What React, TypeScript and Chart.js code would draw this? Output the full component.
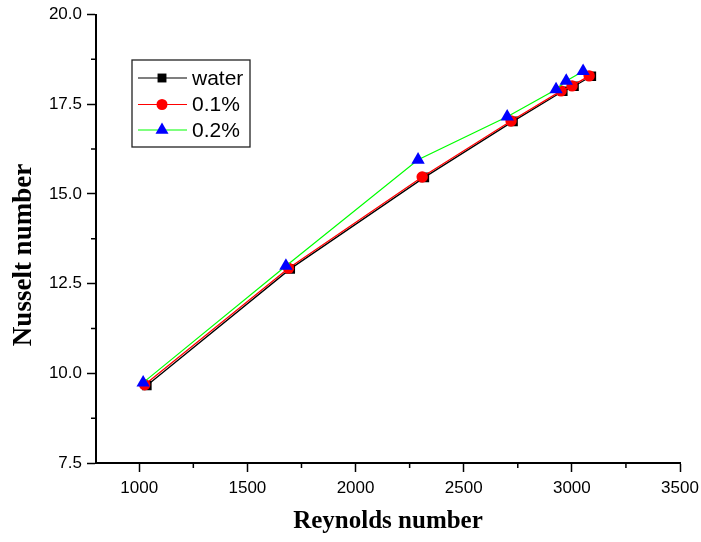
import React, { useEffect, useRef } from 'react';
import { Chart, registerables } from 'chart.js';

Chart.register(...registerables);

// ---- data ----
const seriesNames = ['water', '0.1%', '0.2%'];
const waterRe = [1035, 1698, 2318, 2728, 2958, 3010, 3090];
const waterNu = [9.66, 12.91, 15.46, 17.02, 17.86, 18.0, 18.28];
const np1Re = [1025, 1690, 2308, 2719, 2950, 3001, 3080];
const np1Nu = [9.68, 12.93, 15.47, 17.03, 17.87, 18.01, 18.29];
const np2Re = [1018, 1678, 2289, 2701, 2927, 2974, 3052];
const np2Nu = [9.74, 12.99, 15.95, 17.15, 17.91, 18.15, 18.42];
const xTicks = [1000, 1500, 2000, 2500, 3000, 3500];
const yTicks = [7.5, 10, 12.5, 15, 17.5, 20];
const xTitle = 'Reynolds number';
const yTitle = 'Nusselt number';

const colors = {
  water: '#000000',
  np1Line: '#ff0000',
  np1Point: '#ff0000',
  np2Line: '#00ff00',
  np2Point: '#0000ff',
};

function drawMarker(ctx: CanvasRenderingContext2D, kind: string, x: number, y: number, r: number, color: string) {
  ctx.save();
  ctx.fillStyle = color;
  ctx.beginPath();
  if (kind === 'rect') {
    const s = r * Math.SQRT1_2;
    ctx.rect(x - s, y - s, 2 * s, 2 * s);
  } else if (kind === 'circle') {
    ctx.arc(x, y, r, 0, Math.PI * 2);
  } else {
    let rad = 0;
    ctx.moveTo(x + Math.sin(rad) * r, y - Math.cos(rad) * r);
    rad += (2 * Math.PI) / 3;
    ctx.lineTo(x + Math.sin(rad) * r, y - Math.cos(rad) * r);
    rad += (2 * Math.PI) / 3;
    ctx.lineTo(x + Math.sin(rad) * r, y - Math.cos(rad) * r);
    ctx.closePath();
  }
  ctx.fill();
  ctx.restore();
}

const decorPlugin = {
  id: 'decor',
  afterDraw(chart: any) {
    const ctx: CanvasRenderingContext2D = chart.ctx;
    const xs = chart.scales.x;
    const ys = chart.scales.y;
    ctx.save();
    // minor ticks
    ctx.strokeStyle = '#000';
    ctx.lineWidth = 1.5;
    ctx.beginPath();
    for (let i = 0; i < xTicks.length - 1; i++) {
      const px = xs.getPixelForValue((xTicks[i] + xTicks[i + 1]) / 2);
      ctx.moveTo(px, xs.top);
      ctx.lineTo(px, xs.top + 5);
    }
    for (let i = 0; i < yTicks.length - 1; i++) {
      const py = ys.getPixelForValue((yTicks[i] + yTicks[i + 1]) / 2);
      ctx.moveTo(ys.right, py);
      ctx.lineTo(ys.right - 5, py);
    }
    ctx.stroke();

    // y title
    ctx.save();
    ctx.translate(24, 255);
    ctx.rotate(-Math.PI / 2);
    ctx.font = 'bold 27px "Liberation Serif", "Times New Roman", serif';
    ctx.fillStyle = '#000';
    ctx.textAlign = 'center';
    ctx.textBaseline = 'middle';
    ctx.fillText(yTitle, 0, 0);
    ctx.restore();

    // legend
    const bx = 132, by = 60, bw = 118, bh = 87;
    ctx.strokeStyle = '#222';
    ctx.lineWidth = 1.3;
    ctx.strokeRect(bx, by, bw, bh);
    const rows = [
      { y: 78, line: colors.water, pt: colors.water, kind: 'rect', r: 6.3 },
      { y: 104.5, line: colors.np1Line, pt: colors.np1Point, kind: 'circle', r: 5.5 },
      { y: 130, line: colors.np2Line, pt: colors.np2Point, kind: 'triangle', r: 7.5 },
    ];
    ctx.font = '21px "Liberation Sans", Arial, sans-serif';
    ctx.textAlign = 'left';
    ctx.textBaseline = 'middle';
    rows.forEach((row, i) => {
      ctx.strokeStyle = row.line;
      ctx.lineWidth = 1.2;
      ctx.beginPath();
      ctx.moveTo(138, row.y);
      ctx.lineTo(187, row.y);
      ctx.stroke();
      drawMarker(ctx, row.kind, 162, row.y, row.r, row.pt);
      ctx.fillStyle = '#000';
      ctx.fillText(seriesNames[i], 192, row.y + 1);
    });
    ctx.restore();
  },
};

export default function App() {
  const ref = useRef<HTMLCanvasElement | null>(null);
  useEffect(() => {
    if (!ref.current) return;
    const mk = (xs: number[], ys: number[]) => xs.map((x, i) => ({ x, y: ys[i] }));
    const chart = new Chart(ref.current, {
      type: 'line',
      data: {
        datasets: [
          {
            label: seriesNames[0],
            data: mk(waterRe, waterNu),
            borderColor: colors.water,
            backgroundColor: colors.water,
            borderWidth: 1.3,
            pointStyle: 'rect',
            pointRadius: 6.8,
            pointBorderWidth: 0,
            order: 3,
          },
          {
            label: seriesNames[1],
            data: mk(np1Re, np1Nu),
            borderColor: colors.np1Line,
            backgroundColor: colors.np1Point,
            pointBorderColor: colors.np1Point,
            borderWidth: 1.3,
            pointStyle: 'circle',
            pointRadius: 5.7,
            pointBorderWidth: 0,
            order: 2,
          },
          {
            label: seriesNames[2],
            data: mk(np2Re, np2Nu),
            borderColor: colors.np2Line,
            backgroundColor: colors.np2Point,
            pointBorderColor: colors.np2Point,
            borderWidth: 1.2,
            pointStyle: 'triangle',
            pointRadius: 7.7,
            pointBorderWidth: 0,
            order: 1,
          },
        ],
      },
      options: {
        animation: false,
        responsive: false,
        maintainAspectRatio: false,
        devicePixelRatio: 1,
        layout: { padding: { left: 0, right: 21, top: 14.5, bottom: 0 } },
        plugins: {
          legend: { display: false },
          tooltip: { enabled: false },
        },
        elements: { line: { tension: 0 } },
        scales: {
          x: {
            type: 'linear',
            min: 800,
            max: 3500,
            afterBuildTicks: (s: any) => {
              s.ticks = xTicks.map((v) => ({ value: v }));
            },
            afterFit: (s: any) => {
              s.height = 79;
              s.paddingLeft = 0;
              s.paddingRight = 0;
            },
            grid: {
              display: true,
              drawOnChartArea: false,
              drawTicks: true,
              tickLength: 9,
              tickColor: '#000',
              tickWidth: 1.5,
            },
            border: { display: true, color: '#000', width: 2 },
            ticks: {
              color: '#000',
              padding: 6,
              maxRotation: 0,
              autoSkip: false,
              font: { family: '"Liberation Sans", Arial, sans-serif', size: 17 },
              callback: (v: any) => String(v),
            },
            title: {
              display: true,
              text: xTitle,
              color: '#000',
              font: { family: '"Liberation Serif", "Times New Roman", serif', size: 25, weight: 'bold' },
              padding: { top: 0, bottom: 5 },
            },
          },
          y: {
            type: 'linear',
            min: 7.5,
            max: 20,
            afterBuildTicks: (s: any) => {
              s.ticks = yTicks.map((v) => ({ value: v }));
            },
            afterFit: (s: any) => {
              s.width = 96;
              s.paddingTop = 0;
              s.paddingBottom = 0;
            },
            grid: {
              display: true,
              drawOnChartArea: false,
              drawTicks: true,
              tickLength: 9,
              tickColor: '#000',
              tickWidth: 1.5,
            },
            border: { display: true, color: '#000', width: 2 },
            ticks: {
              color: '#000',
              padding: 5,
              autoSkip: false,
              font: { family: '"Liberation Sans", Arial, sans-serif', size: 17 },
              callback: (v: any) => Number(v).toFixed(1),
            },
          },
        },
      },
      plugins: [decorPlugin],
    } as any);
    return () => chart.destroy();
  }, []);
  return (
    <div style={{ position: 'fixed', left: 0, top: 0, width: 701, height: 542, background: '#fff' }}>
      <canvas ref={ref} width={701} height={542} style={{ width: 701, height: 542, display: 'block' }} />
    </div>
  );
}
